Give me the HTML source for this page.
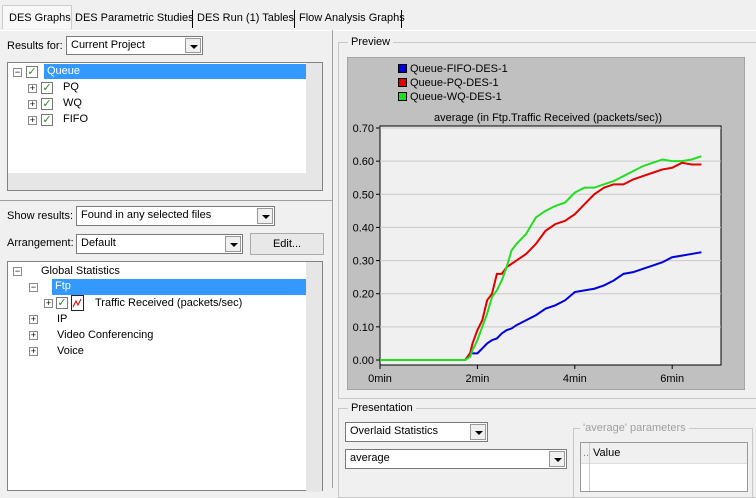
<!DOCTYPE html>
<html><head><meta charset="utf-8"><style>
body{margin:0;width:756px;height:488px;background:#f0f0f0;font-family:"Liberation Sans",sans-serif;font-size:11px;color:#000;position:relative;overflow:hidden}
.a{position:absolute;white-space:nowrap}
.box{position:absolute;background:#fff;border:1px solid #828282;box-sizing:border-box}
.dd{position:absolute;background:#fff;border:1px solid #7a7a7a;box-sizing:border-box;padding:2px 4px;white-space:nowrap}
.dd .btn{position:absolute;right:1px;top:1px;bottom:1px;width:16px;background:#f0f0f0;border:1px solid #999;box-sizing:border-box}
.dd .btn:after{content:"";position:absolute;left:4px;top:6px;border:4px solid transparent;border-top:4px solid #000;border-bottom:0}
.grp{position:absolute;border:1px solid #c8c8c8;box-sizing:border-box}
.lbl{position:absolute;background:#f0f0f0;padding:0 3px;white-space:nowrap}
.hl{position:absolute;background:#3399ff;color:#fff;padding:1px 3px;box-sizing:border-box}
.cb{position:absolute;width:12px;height:12px;border:1px solid #777;background:#fff;box-sizing:border-box;color:#2a8a2a;font-size:11px;line-height:10px;text-align:center}
.pm{position:absolute;width:9px;height:9px;border:1px solid #888;background:#fff;box-sizing:border-box;font-size:9px;line-height:7px;text-align:center}
.sb{position:absolute;background:#e6e6e6}
</style></head><body>
<div class="a" style="left:0;top:8px;width:410px;height:22px">
<div class="a" style="left:2px;top:-3px;width:70px;height:24px;background:#f8f8f8;border:1px solid #ccc;border-bottom:none;padding:6px 0 0 6px;box-sizing:border-box">DES Graphs</div>
<div class="a" style="left:75px;top:4px">DES Parametric Studies</div>
<div class="a" style="left:192px;top:2px;width:1px;height:18px;background:#000"></div>
<div class="a" style="left:197px;top:4px">DES Run (1) Tables</div>
<div class="a" style="left:294px;top:2px;width:1px;height:18px;background:#000"></div>
<div class="a" style="left:299px;top:4px">Flow Analysis Graphs</div>
<div class="a" style="left:401px;top:2px;width:1px;height:18px;background:#000"></div>
</div>
<div class="a" style="left:0;top:30px;width:756px;height:1px;background:#fff"></div>
<div class="a" style="left:332px;top:30px;width:1px;height:458px;background:#a0a0a0"></div>
<div class="a" style="left:7px;top:40px">Results for:</div>
<div class="dd" style="left:66px;top:36px;width:137px;height:19px">Current Project<span class="btn"></span></div>
<div class="box" style="left:7px;top:62px;width:316px;height:129px">
<div class="pm" style="left:5px;top:5px">−</div><div class="cb" style="left:18px;top:3px">✓</div>
<div class="hl" style="left:36px;top:1px;width:262px;height:15px;padding-left:3px">Queue</div>
<div class="pm" style="left:20px;top:21px">+</div><div class="cb" style="left:33px;top:19px">✓</div><div class="a" style="left:55px;top:18px">PQ</div>
<div class="pm" style="left:20px;top:37px">+</div><div class="cb" style="left:33px;top:35px">✓</div><div class="a" style="left:55px;top:34px">WQ</div>
<div class="pm" style="left:20px;top:53px">+</div><div class="cb" style="left:33px;top:51px">✓</div><div class="a" style="left:55px;top:50px">FIFO</div>
<div class="sb" style="left:298px;top:0;width:16px;height:110px"></div>
<div class="sb" style="left:0;top:110px;width:314px;height:17px"></div>
</div>
<div class="a" style="left:0;top:200px;width:332px;height:1px;background:#a0a0a0"></div>
<div class="a" style="left:7px;top:210px">Show results:</div>
<div class="dd" style="left:76px;top:206px;width:199px;height:20px">Found in any selected files<span class="btn"></span></div>
<div class="a" style="left:7px;top:237px">Arrangement:</div>
<div class="dd" style="left:76px;top:234px;width:167px;height:20px">Default<span class="btn"></span></div>
<div class="a" style="left:250px;top:233px;width:74px;height:22px;border:1px solid #aaa;background:#e8e8e8;box-sizing:border-box;text-align:center;line-height:20px">Edit...</div>
<div class="box" style="left:7px;top:261px;width:316px;height:230px">
<div class="pm" style="left:5px;top:5px">−</div><div class="a" style="left:33px;top:3px">Global Statistics</div>
<div class="pm" style="left:21px;top:21px">−</div><div class="hl" style="left:44px;top:17px;width:254px;height:16px">Ftp</div>
<div class="pm" style="left:36px;top:37px">+</div><div class="cb" style="left:48px;top:35px">✓</div>
<svg class="a" style="left:63px;top:33px" width="14" height="16"><rect x="0.5" y="0.5" width="12" height="15" fill="#fff" stroke="#223"/><polyline points="2,12 5,6 7,10 10,4" fill="none" stroke="#c00"/></svg>
<div class="a" style="left:87px;top:35px">Traffic Received (packets/sec)</div>
<div class="pm" style="left:21px;top:53px">+</div><div class="a" style="left:49px;top:51px">IP</div>
<div class="pm" style="left:21px;top:69px">+</div><div class="a" style="left:49px;top:67px">Video Conferencing</div>
<div class="pm" style="left:21px;top:85px">+</div><div class="a" style="left:49px;top:83px">Voice</div>
<div class="sb" style="left:298px;top:0;width:16px;height:230px"></div>
</div>
<div class="grp" style="left:338px;top:42px;width:420px;height:357px"></div>
<div class="lbl" style="left:348px;top:36px">Preview</div>
<svg class="a" style="left:347px;top:57px" width="398" height="333" id="chart"></svg>
<div class="grp" style="left:338px;top:408px;width:420px;height:90px"></div>
<div class="lbl" style="left:348px;top:402px">Presentation</div>
<div class="dd" style="left:345px;top:422px;width:143px;height:20px">Overlaid Statistics<span class="btn"></span></div>
<div class="dd" style="left:345px;top:449px;width:222px;height:20px">average<span class="btn"></span></div>
<div class="grp" style="left:573px;top:428px;width:180px;height:70px"></div>
<div class="lbl" style="left:580px;top:422px;color:#a0a0a0">'average' parameters</div>
<div class="box" style="left:580px;top:442px;width:168px;height:50px;border-color:#999">
<div class="a" style="left:0;top:0;width:166px;height:20px;background:#f0f0f0;border-bottom:1px solid #ddd"></div>
<div class="a" style="left:2px;top:4px;color:#888">..</div><div class="a" style="left:8px;top:0;width:1px;height:48px;background:#ccc"></div>
<div class="a" style="left:12px;top:4px">Value</div>
</div>
<script>
const times=[0,1.75,1.85,1.9,2.0,2.1,2.2,2.3,2.4,2.5,2.6,2.7,2.8,3.0,3.2,3.4,3.6,3.8,4.0,4.2,4.4,4.6,4.8,5.0,5.2,5.4,5.6,5.8,6.0,6.2,6.4,6.6];
const fifo=[0,0,0.02,0.02,0.02,0.035,0.05,0.06,0.065,0.08,0.09,0.095,0.105,0.12,0.135,0.155,0.165,0.18,0.205,0.21,0.215,0.225,0.24,0.26,0.265,0.275,0.285,0.295,0.31,0.315,0.32,0.325];
const pq=[0,0,0.02,0.05,0.09,0.12,0.18,0.2,0.26,0.26,0.28,0.29,0.3,0.32,0.35,0.39,0.41,0.42,0.44,0.47,0.5,0.52,0.53,0.53,0.545,0.555,0.565,0.575,0.58,0.595,0.59,0.59];
const wq=[0,0,0.01,0.03,0.06,0.1,0.14,0.19,0.21,0.24,0.28,0.33,0.35,0.38,0.43,0.45,0.465,0.475,0.505,0.52,0.52,0.53,0.54,0.555,0.57,0.585,0.595,0.605,0.6,0.6,0.605,0.615];
const yTicks=["0.00","0.10","0.20","0.30","0.40","0.50","0.60","0.70"];
const xTicks=["0min","2min","4min","6min"];
const seriesNames=["Queue-FIFO-DES-1","Queue-PQ-DES-1","Queue-WQ-DES-1"];
const svg=document.getElementById('chart');const NS='http://www.w3.org/2000/svg';
const PL=33,PR=374,PT=69,PB=308,Y0=303,YS=(303-71)/0.7,XS=48.7;
const xs=t=>PL+t*XS, ys=v=>Y0-v*YS;
function mk(tag,at,parent){const e=document.createElementNS(NS,tag);for(const k in at)e.setAttribute(k,at[k]);(parent||svg).appendChild(e);return e;}
let bg=mk('rect',{x:0,y:0,width:398,height:333,fill:'#c0c0c0',stroke:'#888'});


let pa=mk('rect',{x:PL,y:PT,width:PR-PL,height:PB-PT,fill:'#f0f0f0',stroke:'#000'});


yTicks.forEach((t,i)=>{const y=ys(i*0.1);
 if(i>0){const g=mk('line',{x1:PL,x2:PR,y1:y,y2:y,stroke:'#c8c8c8'});}
 mk('line',{x1:PL-4,x2:PL,y1:y,y2:y,stroke:'#000'});
 const tx=mk('text',{x:PL-6,y:y+4,'text-anchor':'end','font-size':'11','font-family':'Liberation Sans'});tx.textContent=t;
 
 });
xTicks.forEach((t,i)=>{const x=xs(i*2);
 mk('line',{x1:x,x2:x,y1:PB,y2:PB+4,stroke:'#000'});
 const tx=mk('text',{x:x,y:PB+17,'text-anchor':'middle','font-size':'11','font-family':'Liberation Sans'});tx.textContent=t;
 
 });
const title=mk('text',{x:201,y:64,'text-anchor':'middle','font-size':'11','font-family':'Liberation Sans'});title.textContent='average (in Ftp.Traffic Received (packets/sec))';


const cols=['#0000dd','#e00000','#22dd22'];
[fifo,pq,wq].forEach((d,k)=>{
 const p=mk('polyline',{points:d.map((v,i)=>xs(times[i])+','+ys(v)).join(' '),fill:'none',stroke:cols[k],'stroke-width':2});
 
 
 const g=mk('g',{});
 
 
 mk('rect',{x:51.5,y:7.5+k*14,width:8,height:8,fill:cols[k],stroke:'#000'},g);
 const t=mk('text',{x:63,y:15+k*14,'font-size':'11','font-family':'Liberation Sans'},g);t.textContent=seriesNames[k];});
</script>
</body></html>
